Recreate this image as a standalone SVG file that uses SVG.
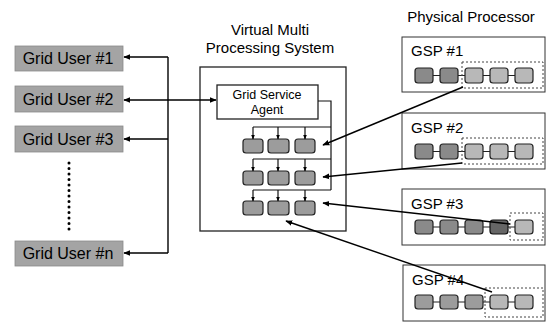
<svg xmlns="http://www.w3.org/2000/svg" width="547" height="323" viewBox="0 0 547 323">
<style>
text{font-family:"Liberation Sans",Arial,sans-serif;fill:#000}
.t{font-size:15px}
.h{font-size:15px;text-anchor:middle}
.u{font-size:16px;text-anchor:middle}
.gsa{font-size:12.5px;text-anchor:middle}
.ub{fill:#a4a4a4;stroke:#8a8a8a;stroke-width:0.8}
.c{fill:none;stroke:#000;stroke-width:1.4}
.cl{fill:none;stroke:#111;stroke-width:1.2}
.box{fill:#fff;stroke:#222;stroke-width:1.3}
.gsp{fill:#fff;stroke:#333;stroke-width:1}
.pd{fill:#8a8a8a;stroke:#222;stroke-width:1.2}
.pm{fill:#9c9c9c;stroke:#222;stroke-width:1.2}
.pl{fill:#b8b8b8;stroke:#222;stroke-width:1.2}
.px{fill:#666;stroke:#111;stroke-width:1.2}
.dash{fill:none;stroke:#444;stroke-width:1;stroke-dasharray:2 2}
</style>
<defs>
<marker id="ah" viewBox="0 0 10 10" refX="9" refY="5" markerWidth="7" markerHeight="7" orient="auto-start-reverse" markerUnits="userSpaceOnUse">
<path d="M0,1 L10,5 L0,9 Z" fill="#000"/>
</marker>
<marker id="as" viewBox="0 0 10 10" refX="9" refY="5" markerWidth="5" markerHeight="5" orient="auto" markerUnits="userSpaceOnUse">
<path d="M0,1 L10,5 L0,9 Z" fill="#000"/>
</marker>
</defs>

<text class="h" x="270" y="35">Virtual Multi</text>
<text class="h" x="270" y="53">Processing System</text>
<text class="h" x="471" y="22">Physical Processor</text>

<g id="user1"><rect class="ub" x="15" y="46" width="108" height="25"/><text class="u" x="68" y="64">Grid User #1</text></g>
<g id="user2"><rect class="ub" x="15" y="86" width="108" height="26"/><text class="u" x="68" y="105">Grid User #2</text></g>
<g id="user3"><rect class="ub" x="15" y="126" width="108" height="26"/><text class="u" x="68" y="145">Grid User #3</text></g>
<g id="usern"><rect class="ub" x="15" y="241" width="108" height="25"/><text class="u" x="68" y="259">Grid User #n</text></g>
<g id="ellipsis"><line x1="69" y1="163" x2="69" y2="230" stroke="#000" stroke-width="3" stroke-linecap="round" stroke-dasharray="0 5.5"/></g>

<g id="vmps">
<rect class="box" x="200" y="67" width="146" height="164"/>
</g>
<g id="gsa">
<rect class="box" x="217" y="85" width="101" height="34"/>
<text class="gsa" x="267" y="99">Grid Service</text>
<text class="gsa" x="267" y="114">Agent</text>
</g>
<g id="vprocs">
<rect class="pm" x="243" y="139" width="20" height="14" rx="3"/>
<rect class="pm" x="268" y="139" width="21" height="14" rx="3"/>
<rect class="pm" x="295" y="139" width="20" height="14" rx="3"/>
<rect class="pm" x="243" y="171" width="20" height="14" rx="3"/>
<rect class="pm" x="268" y="171" width="21" height="14" rx="3"/>
<rect class="pm" x="295" y="171" width="20" height="14" rx="3"/>
<rect class="pm" x="243" y="201" width="20" height="14" rx="3"/>
<rect class="pm" x="268" y="201" width="21" height="14" rx="3"/>
<rect class="pm" x="295" y="201" width="20" height="14" rx="3"/>
</g>

<g id="gsp1">
<rect class="gsp" x="402" y="37" width="143" height="55"/>
<text class="t" x="411" y="56">GSP #1</text>
<line x1="415" y1="75.5" x2="533" y2="75.5" stroke="#222" stroke-width="1.2"/>
<rect class="pd" x="415" y="68" width="18" height="15" rx="3"/>
<rect class="pd" x="440" y="68" width="18" height="15" rx="3"/>
<rect class="pl" x="465" y="68" width="18" height="15" rx="3"/>
<rect class="pl" x="490" y="68" width="18" height="15" rx="3"/>
<rect class="pl" x="515" y="68" width="18" height="15" rx="3"/>
<rect class="dash" x="462" y="62" width="81" height="26"/>
</g>
<g id="gsp2">
<rect class="gsp" x="402" y="113" width="143" height="56"/>
<text class="t" x="411" y="133">GSP #2</text>
<line x1="415" y1="151.5" x2="533" y2="151.5" stroke="#222" stroke-width="1.2"/>
<rect class="pd" x="415" y="144" width="18" height="15" rx="3"/>
<rect class="pd" x="440" y="144" width="18" height="15" rx="3"/>
<rect class="pl" x="465" y="144" width="18" height="15" rx="3"/>
<rect class="pl" x="490" y="144" width="18" height="15" rx="3"/>
<rect class="pl" x="515" y="144" width="18" height="15" rx="3"/>
<rect class="dash" x="462" y="138" width="81" height="26"/>
</g>
<g id="gsp3">
<rect class="gsp" x="402" y="189" width="143" height="56"/>
<text class="t" x="411" y="209">GSP #3</text>
<line x1="415" y1="227" x2="533" y2="227" stroke="#222" stroke-width="1.2"/>
<rect class="pd" x="415" y="220" width="18" height="14" rx="3"/>
<rect class="pd" x="440" y="220" width="18" height="14" rx="3"/>
<rect class="pd" x="465" y="220" width="18" height="14" rx="3"/>
<rect class="px" x="490" y="220" width="18" height="14" rx="3"/>
<rect class="pl" x="515" y="220" width="18" height="14" rx="3"/>
<rect class="dash" x="510" y="213" width="33" height="27"/>
</g>
<g id="gsp4">
<rect class="gsp" x="403" y="265" width="142" height="56"/>
<text class="t" x="412" y="285">GSP #4</text>
<line x1="415" y1="302" x2="533" y2="302" stroke="#222" stroke-width="1.2"/>
<rect class="pm" x="415" y="295" width="18" height="14" rx="3"/>
<rect class="pm" x="440" y="295" width="18" height="14" rx="3"/>
<rect class="pm" x="465" y="295" width="18" height="14" rx="3"/>
<rect class="pl" x="490" y="295" width="18" height="14" rx="3"/>
<rect class="pl" x="515" y="295" width="18" height="14" rx="3"/>
<rect class="dash" x="485" y="288" width="58" height="29"/>
</g>

<g id="connectors">
<polyline class="c" points="168,57 168,253"/>
<line class="c" x1="168" y1="57" x2="124" y2="57" marker-end="url(#ah)"/>
<line class="c" x1="168" y1="139" x2="124" y2="139" marker-end="url(#ah)"/>
<line class="c" x1="168" y1="253" x2="124" y2="253" marker-end="url(#ah)"/>
<line class="c" x1="124" y1="100" x2="216" y2="100" marker-start="url(#ah)" marker-end="url(#ah)"/>
<polyline class="cl" points="318,101 331,101 331,190"/>
<line class="cl" x1="253" y1="127" x2="331" y2="127"/>
<line class="cl" x1="253" y1="159" x2="331" y2="159"/>
<line class="cl" x1="253" y1="190" x2="331" y2="190"/>
<line class="cl" x1="253" y1="127" x2="253" y2="139" marker-end="url(#as)"/>
<line class="cl" x1="278" y1="127" x2="278" y2="139" marker-end="url(#as)"/>
<line class="cl" x1="305" y1="127" x2="305" y2="139" marker-end="url(#as)"/>
<line class="cl" x1="253" y1="159" x2="253" y2="171" marker-end="url(#as)"/>
<line class="cl" x1="278" y1="159" x2="278" y2="171" marker-end="url(#as)"/>
<line class="cl" x1="305" y1="159" x2="305" y2="171" marker-end="url(#as)"/>
<line class="cl" x1="253" y1="190" x2="253" y2="201" marker-end="url(#as)"/>
<line class="cl" x1="278" y1="190" x2="278" y2="201" marker-end="url(#as)"/>
<line class="cl" x1="305" y1="190" x2="305" y2="201" marker-end="url(#as)"/>
<line class="c" x1="463" y1="87" x2="323" y2="145" marker-end="url(#ah)"/>
<line class="c" x1="462" y1="163" x2="323" y2="177" marker-end="url(#ah)"/>
<line class="c" x1="510" y1="224" x2="323" y2="203" marker-end="url(#ah)"/>
<line class="c" x1="492" y1="292" x2="286" y2="221" marker-end="url(#ah)"/>
</g>
</svg>
